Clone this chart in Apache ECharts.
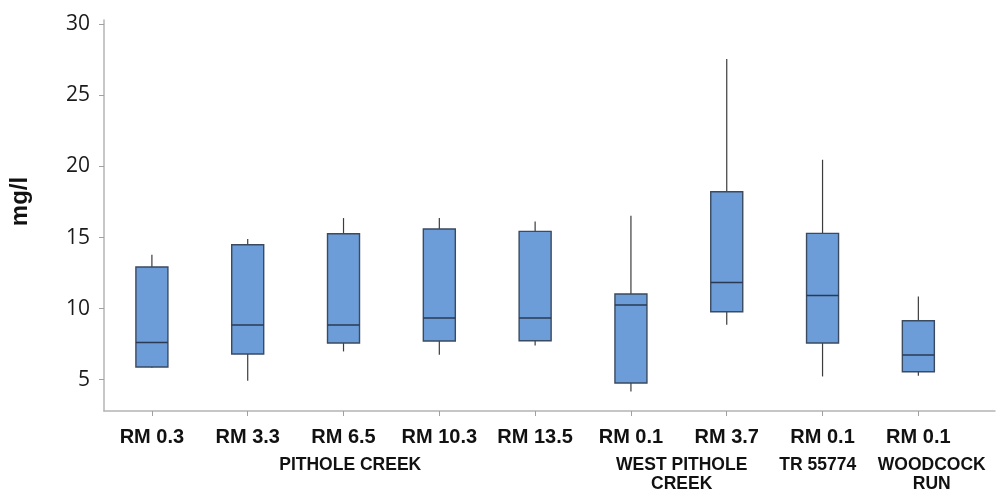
<!DOCTYPE html>
<html>
<head>
<meta charset="utf-8">
<script src="https://cdn.jsdelivr.net/npm/echarts@6/dist/echarts.min.js"></script>
<style>
  html, body { margin: 0; padding: 0; background: #ffffff; }
  #chart { width: 998px; height: 498px; }
</style>
</head>
<body>
<div id="chart"></div>
<script>
// Sampling stations (river mile) along each stream
const categories = ['RM 0.3', 'RM 3.3', 'RM 6.5', 'RM 10.3', 'RM 13.5', 'RM 0.1', 'RM 3.7', 'RM 0.1', 'RM 0.1'];

// Stream names, placed under the stations they group
const groupNames = ['PITHOLE CREEK', 'WEST PITHOLE\nCREEK', 'TR 55774', 'WOODCOCK\nRUN'];
const groupCenters = [2.07, 5.53, 6.95, 8.14];

// Box statistics per station (mg/l)
const mins    = [5.85, 4.93, 6.99, 6.76, 7.41, 4.18, 8.87, 5.23, 5.28];
const q1s     = [5.89, 6.81, 7.58, 7.72, 7.74, 4.77, 9.78, 7.58, 5.56];
const medians = [7.62, 8.85, 8.85, 9.34, 9.34, 10.25, 11.84, 10.93, 6.74];
const q3s     = [12.93, 14.49, 15.27, 15.60, 15.43, 11.03, 18.22, 15.29, 9.15];
const maxs    = [13.79, 14.89, 16.37, 16.37, 16.13, 16.53, 27.55, 20.47, 10.86];

// Value-axis tick labels
const yTicks = [5, 10, 15, 20, 25, 30];

const boxData = categories.map((c, i) => [i, mins[i], q1s[i], medians[i], q3s[i], maxs[i]]);
const stationIdx = categories.map((c, i) => i);

const BOX_HALF = 16;
const boxFill = '#6d9dd8';
const boxEdge = '#3a4a60';
const whiskerColor = '#3c3c3c';

function renderBox(params, api) {
  const x = api.value(0);
  const pMin = api.coord([x, api.value(1)]);
  const pQ1 = api.coord([x, api.value(2)]);
  const pMed = api.coord([x, api.value(3)]);
  const pQ3 = api.coord([x, api.value(4)]);
  const pMax = api.coord([x, api.value(5)]);
  const cx = pQ1[0];
  return {
    type: 'group',
    children: [
      { type: 'line', shape: { x1: cx, y1: pMax[1], x2: cx, y2: pQ3[1] },
        style: { stroke: whiskerColor, lineWidth: 1.2 } },
      { type: 'line', shape: { x1: cx, y1: pQ1[1], x2: cx, y2: pMin[1] },
        style: { stroke: whiskerColor, lineWidth: 1.2 } },
      { type: 'rect', shape: { x: cx - BOX_HALF, y: pQ3[1], width: BOX_HALF * 2, height: pQ1[1] - pQ3[1] },
        style: { fill: boxFill, stroke: boxEdge, lineWidth: 1.4 } },
      { type: 'line', shape: { x1: cx - BOX_HALF, y1: pMed[1], x2: cx + BOX_HALF, y2: pMed[1] },
        style: { stroke: '#2a3a52', lineWidth: 1.5 } }
    ]
  };
}

const chart = echarts.init(document.getElementById('chart'), null, { renderer: 'canvas' });
chart.setOption({
  backgroundColor: '#ffffff',
  animation: false,
  grid: { left: 101.5, right: 3, top: 20, bottom: 87, containLabel: false },
  xAxis: [
    {
      type: 'value', min: -0.5, max: 8.8,
      axisLine: { show: true, onZero: false, lineStyle: { color: '#b4b4b4', width: 1.5 } },
      axisTick: { show: true, length: 5, customValues: stationIdx, lineStyle: { color: '#a0a0a0' } },
      splitLine: { show: false },
      axisLabel: {
        customValues: stationIdx, margin: 16,
        formatter: v => categories[Math.round(v)] || '',
        fontFamily: 'Liberation Sans, Arial, sans-serif', fontWeight: 'bold',
        fontSize: 20, color: '#111111'
      }
    },
    {
      type: 'value', min: -0.5, max: 8.8, position: 'bottom',
      axisLine: { show: false, onZero: false }, axisTick: { show: false }, splitLine: { show: false },
      axisLabel: {
        customValues: groupCenters, margin: 45,
        formatter: v => groupNames[groupCenters.indexOf(v)] || '',
        fontFamily: 'Liberation Sans, Arial, sans-serif', fontWeight: 'bold',
        fontSize: 17.5, lineHeight: 19, color: '#111111', align: 'center'
      }
    }
  ],
  yAxis: {
    type: 'value', min: 2.8, max: 30.3,
    name: 'mg/l', nameLocation: 'middle', nameRotate: 90, nameGap: 72,
    nameTextStyle: { fontFamily: 'Liberation Sans, Arial, sans-serif', fontWeight: 'bold', fontSize: 24, color: '#111111', padding: [0, 0, 0, 28] },
    axisLine: { show: true, onZero: false, lineStyle: { color: '#b4b4b4', width: 1.5 } },
    axisTick: { show: true, length: 5, customValues: yTicks, lineStyle: { color: '#a0a0a0' } },
    splitLine: { show: false },
    axisLabel: {
      customValues: yTicks, margin: 14,
      fontFamily: 'Open Sans, Noto Sans, sans-serif', fontSize: 21, color: '#1a1a1a'
    }
  },
  series: [{
    type: 'custom',
    xAxisIndex: 0,
    renderItem: renderBox,
    encode: { x: 0, y: [1, 2, 3, 4, 5] },
    data: boxData
  }]
});
</script>
</body>
</html>
